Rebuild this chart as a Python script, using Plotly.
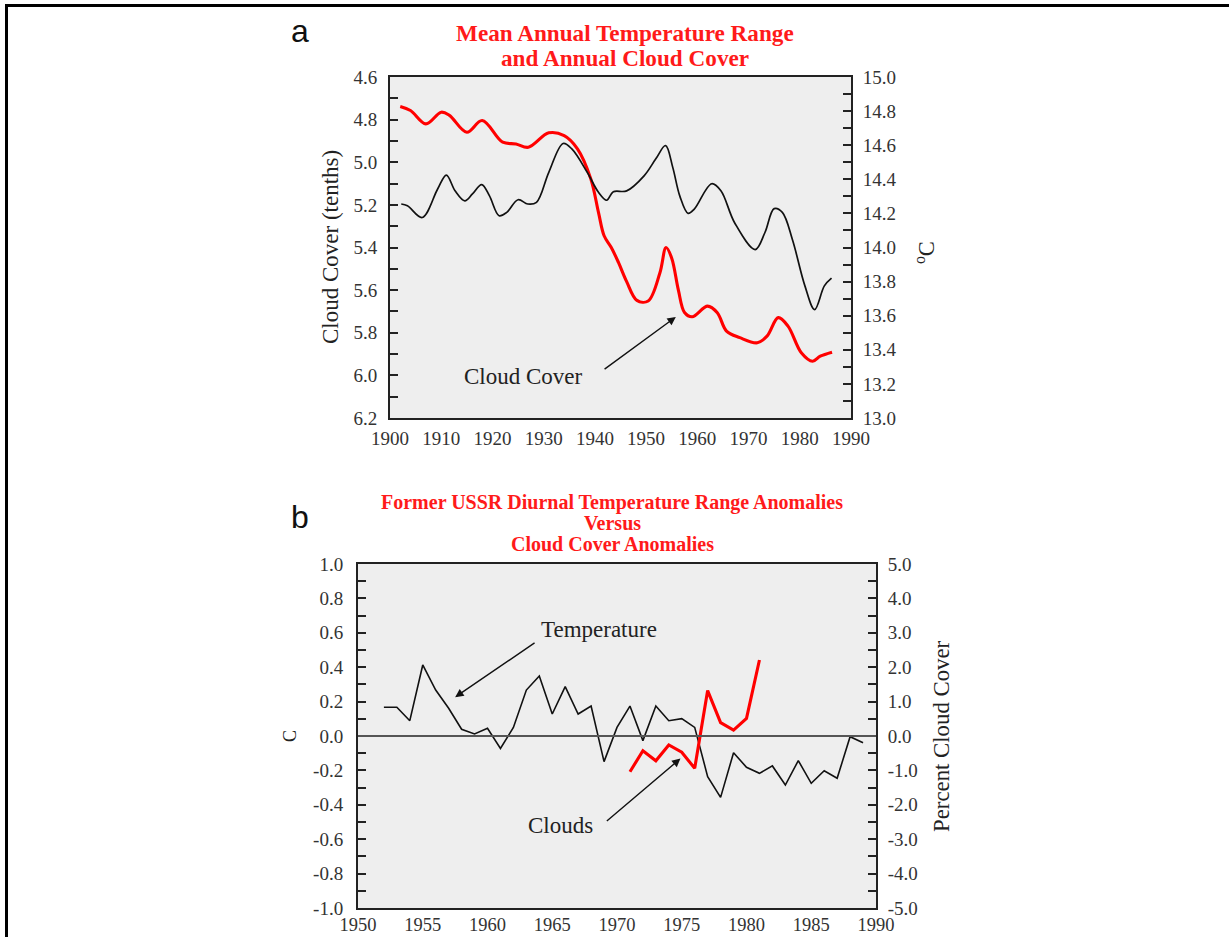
import plotly.graph_objects as go

W, H = 1229, 937

# ---------------- Panel a data ----------------
cc_years = [1902, 1904, 1907, 1910, 1911.6, 1915, 1918, 1922, 1924.6, 1927, 1931, 1934,
            1936.6, 1939.2, 1940.7, 1941.8, 1943.2, 1944.6, 1946.2, 1948.2, 1950.4, 1952.7,
            1953.9, 1955.0, 1956.3, 1957.5, 1959, 1962, 1963.9, 1965.7, 1968.3, 1971.7, 1973.6,
            1975.8, 1977.7, 1980.3, 1982.5, 1984, 1986.3]
cloud_cover = [4.738, 4.757, 4.82, 4.765, 4.78, 4.859, 4.804, 4.906, 4.914, 4.93, 4.862, 4.875,
               4.937, 5.078, 5.235, 5.345, 5.40, 5.47, 5.56, 5.648, 5.651, 5.518,
               5.40, 5.45, 5.60, 5.705, 5.725, 5.675, 5.706, 5.792, 5.823, 5.847, 5.816,
               5.729, 5.769, 5.894, 5.934, 5.91, 5.891]

dtr_years = [1902.2, 1903.4, 1906.3, 1909.3, 1911, 1912.7, 1914.6, 1916.1, 1917.9, 1919.4,
             1921.3, 1922.8, 1925, 1926.9, 1928.6, 1931, 1933.8, 1935.5, 1938.5, 1940.7,
             1942.3, 1943.6, 1946.2, 1949.6, 1951.9, 1953.8, 1955.2, 1956.6, 1958.2, 1959.4,
             1962.8, 1964.6, 1967.3, 1971.3, 1973.2, 1975.0, 1976.6, 1978.6, 1981, 1982.9,
             1984.8, 1986.2]
dtr_temp = [14.255, 14.245, 14.176, 14.343, 14.425, 14.333, 14.274, 14.314, 14.369, 14.304,
            14.186, 14.206, 14.28, 14.255, 14.265, 14.441, 14.61, 14.578, 14.441, 14.324,
            14.277, 14.327, 14.332, 14.42, 14.520, 14.598, 14.47, 14.30, 14.2, 14.225,
            14.374, 14.333, 14.144, 13.988, 14.088, 14.228, 14.206, 14.042, 13.775, 13.636,
            13.775, 13.82]

# ---------------- Panel b data ----------------
temp_years = list(range(1952, 1990))
temp_anom = [0.167, 0.167, 0.089, 0.413, 0.267, 0.161, 0.039, 0.012, 0.045, -0.072,
             0.05, 0.267, 0.349, 0.128, 0.287, 0.128, 0.174, -0.149, 0.05, 0.174,
             -0.027, 0.174, 0.089, 0.101, 0.05, -0.236, -0.357, -0.097, -0.182, -0.217,
             -0.174, -0.285, -0.143, -0.275, -0.202, -0.246, -0.004, -0.039]

cloud_years = list(range(1971, 1982))
cloud_anom = [-1.04, -0.43, -0.72, -0.26, -0.47, -0.94, 1.32, 0.39, 0.17, 0.51, 2.21]

# tick labels
a_left_vals = [4.6, 4.8, 5.0, 5.2, 5.4, 5.6, 5.8, 6.0, 6.2]
a_left_text = ["4.6", "4.8", "5.0", "5.2", "5.4", "5.6", "5.8", "6.0", "6.2"]
a_right_vals = [13.0, 13.2, 13.4, 13.6, 13.8, 14.0, 14.2, 14.4, 14.6, 14.8, 15.0]
a_right_text = ["13.0", "13.2", "13.4", "13.6", "13.8", "14.0", "14.2", "14.4", "14.6", "14.8", "15.0"]
a_x_vals = [1900, 1910, 1920, 1930, 1940, 1950, 1960, 1970, 1980, 1990]
b_left_vals = [1.0, 0.8, 0.6, 0.4, 0.2, 0.0, -0.2, -0.4, -0.6, -0.8, -1.0]
b_left_text = ["1.0", "0.8", "0.6", "0.4", "0.2", "0.0", "-0.2", "-0.4", "-0.6", "-0.8", "-1.0"]
b_right_vals = [5, 4, 3, 2, 1, 0, -1, -2, -3, -4, -5]
b_right_text = ["5.0", "4.0", "3.0", "2.0", "1.0", "0.0", "-1.0", "-2.0", "-3.0", "-4.0", "-5.0"]
b_x_vals = [1950, 1955, 1960, 1965, 1970, 1975, 1980, 1985, 1990]


def px(X):
    return X / W


def py(Y):
    return 1 - Y / H


SERIF = "Liberation Serif"
TICKA = dict(family=SERIF, size=19, color="#333333")
TICKB = dict(family=SERIF, size=19, color="#333333")
TICKBX = dict(family=SERIF, size=18.5, color="#333333")
AXCOL = "#222222"

fig = go.Figure()

fig.add_trace(go.Scatter(x=dtr_years, y=dtr_temp, mode="lines", yaxis="y2", xaxis="x",
                         line=dict(color="#111111", width=1.7, shape="spline", smoothing=1.0),
                         showlegend=False, hoverinfo="skip"))
fig.add_trace(go.Scatter(x=cc_years, y=cloud_cover, mode="lines", yaxis="y", xaxis="x",
                         line=dict(color="#ff0000", width=3.1, shape="spline", smoothing=1.0),
                         showlegend=False, hoverinfo="skip"))
fig.add_trace(go.Scatter(x=temp_years, y=temp_anom, mode="lines", yaxis="y3", xaxis="x2",
                         line=dict(color="#111111", width=1.6),
                         showlegend=False, hoverinfo="skip"))
fig.add_trace(go.Scatter(x=cloud_years, y=cloud_anom, mode="lines", yaxis="y4", xaxis="x2",
                         line=dict(color="#ff0000", width=3.1),
                         showlegend=False, hoverinfo="skip"))

common_y = dict(showgrid=False, zeroline=False, showline=True, linecolor=AXCOL, linewidth=2,
                ticks="inside", ticklen=8, tickwidth=2, tickcolor=AXCOL, automargin=False)
common_x = dict(showgrid=False, zeroline=False, showline=True, linecolor=AXCOL, linewidth=2,
                ticks="", mirror=True, automargin=False)
MINOR = dict(ticks="inside", ticklen=8, tickwidth=2, tickcolor=AXCOL)

fig.update_layout(
    template="none",
    width=W, height=H, autosize=False,
    margin=dict(l=0, r=0, t=0, b=0, pad=0, autoexpand=False),
    paper_bgcolor="white",
    plot_bgcolor="#eeeeee",
    xaxis=dict(domain=[px(390), px(851)], range=[1900, 1990], anchor="y",
               tickvals=a_x_vals, ticklabelstandoff=2, tickfont=TICKA, **common_x),
    yaxis=dict(domain=[py(418), py(77)], range=[6.2, 4.6], anchor="x",
               tickvals=a_left_vals, ticktext=a_left_text, ticklabelstandoff=7,
               minor=dict(dtick=0.1, **MINOR), tickfont=TICKA, **common_y),
    yaxis2=dict(domain=[py(418), py(77)], range=[13.0, 15.0], anchor="x", overlaying="y",
                side="right", tickvals=a_right_vals, ticktext=a_right_text, ticklabelstandoff=6,
                minor=dict(dtick=0.1, **MINOR), tickfont=TICKA, **common_y),
    xaxis2=dict(domain=[px(358), px(876)], range=[1950, 1990], anchor="y3",
                tickvals=b_x_vals, ticklabelstandoff=-1, tickfont=TICKBX, **common_x),
    yaxis3=dict(domain=[py(908), py(564)], range=[-1, 1], anchor="x2",
                tickvals=b_left_vals, ticktext=b_left_text, ticklabelstandoff=9,
                minor=dict(dtick=0.1, **MINOR), tickfont=TICKB, **common_y),
    yaxis4=dict(domain=[py(908), py(564)], range=[-5, 5], anchor="x2", overlaying="y3",
                side="right", tickvals=b_right_vals, ticktext=b_right_text, ticklabelstandoff=6,
                minor=dict(dtick=0.5, **MINOR), tickfont=TICKB, **common_y),
)

# zero line in panel b
fig.add_shape(type="line", xref="x2 domain", yref="y3", x0=0, x1=1, y0=0, y1=0,
              line=dict(color="#555555", width=2))

# outer frame
fig.add_shape(type="rect", xref="paper", yref="paper", x0=px(6.5), x1=px(1240),
              y0=py(950), y1=py(5.5), line=dict(color="black", width=3))

ann = []


def text(x, y, t, size, color="#222222", family=SERIF, angle=0, bold=False):
    if bold:
        t = "<b>" + t + "</b>"
    ann.append(dict(x=px(x), y=py(y), xref="paper", yref="paper", text=t, showarrow=False,
                    textangle=angle, xanchor="center", yanchor="middle",
                    font=dict(family=family, size=size, color=color)))


RED = "#ff1a1a"
text(300, 31, "a", 32, color="#111111", family="Liberation Sans")
text(625, 33.5, "Mean Annual Temperature Range", 23.2, color=RED, bold=True)
text(625, 57.5, "and Annual Cloud Cover", 23.2, color=RED, bold=True)
text(330, 247, "Cloud Cover (tenths)", 23, angle=-90)
text(925, 253, "<sup>o</sup>C", 22.5, angle=-90)
text(523, 376, "Cloud Cover", 23)

text(300, 517, "b", 32, color="#111111", family="Liberation Sans")
text(612, 502.5, "Former USSR Diurnal Temperature Range Anomalies", 20, color=RED, bold=True)
text(612, 523, "Versus", 20, color=RED, bold=True)
text(612, 543.5, "Cloud Cover Anomalies", 20, color=RED, bold=True)
text(290, 736, "C", 18, angle=-90)
text(941, 736, "Percent Cloud Cover", 22.8, angle=-90)
text(599, 629, "Temperature", 23)
text(560, 825, "Clouds", 23)

# arrows
ARW = dict(showarrow=True, arrowhead=2, arrowsize=1.2, arrowwidth=1.4, arrowcolor="#111111",
           text="")
ann.append(dict(x=1955.8, y=5.726, xref="x", yref="y", ax=1941.6, ay=5.976, axref="x",
                ayref="y", **ARW))
ann.append(dict(x=1957.5, y=0.226, xref="x2", yref="y3", ax=1963.75, ay=0.547, axref="x2",
                ayref="y3", **ARW))
ann.append(dict(x=1974.9, y=-0.131, xref="x2", yref="y3", ax=1969.1, ay=-0.502, axref="x2",
                ayref="y3", **ARW))

fig.update_layout(annotations=ann)

fig.write_html("out.html", config={"displayModeBar": False},
               post_script="document.body.style.margin='0';document.body.style.overflow='hidden';")
